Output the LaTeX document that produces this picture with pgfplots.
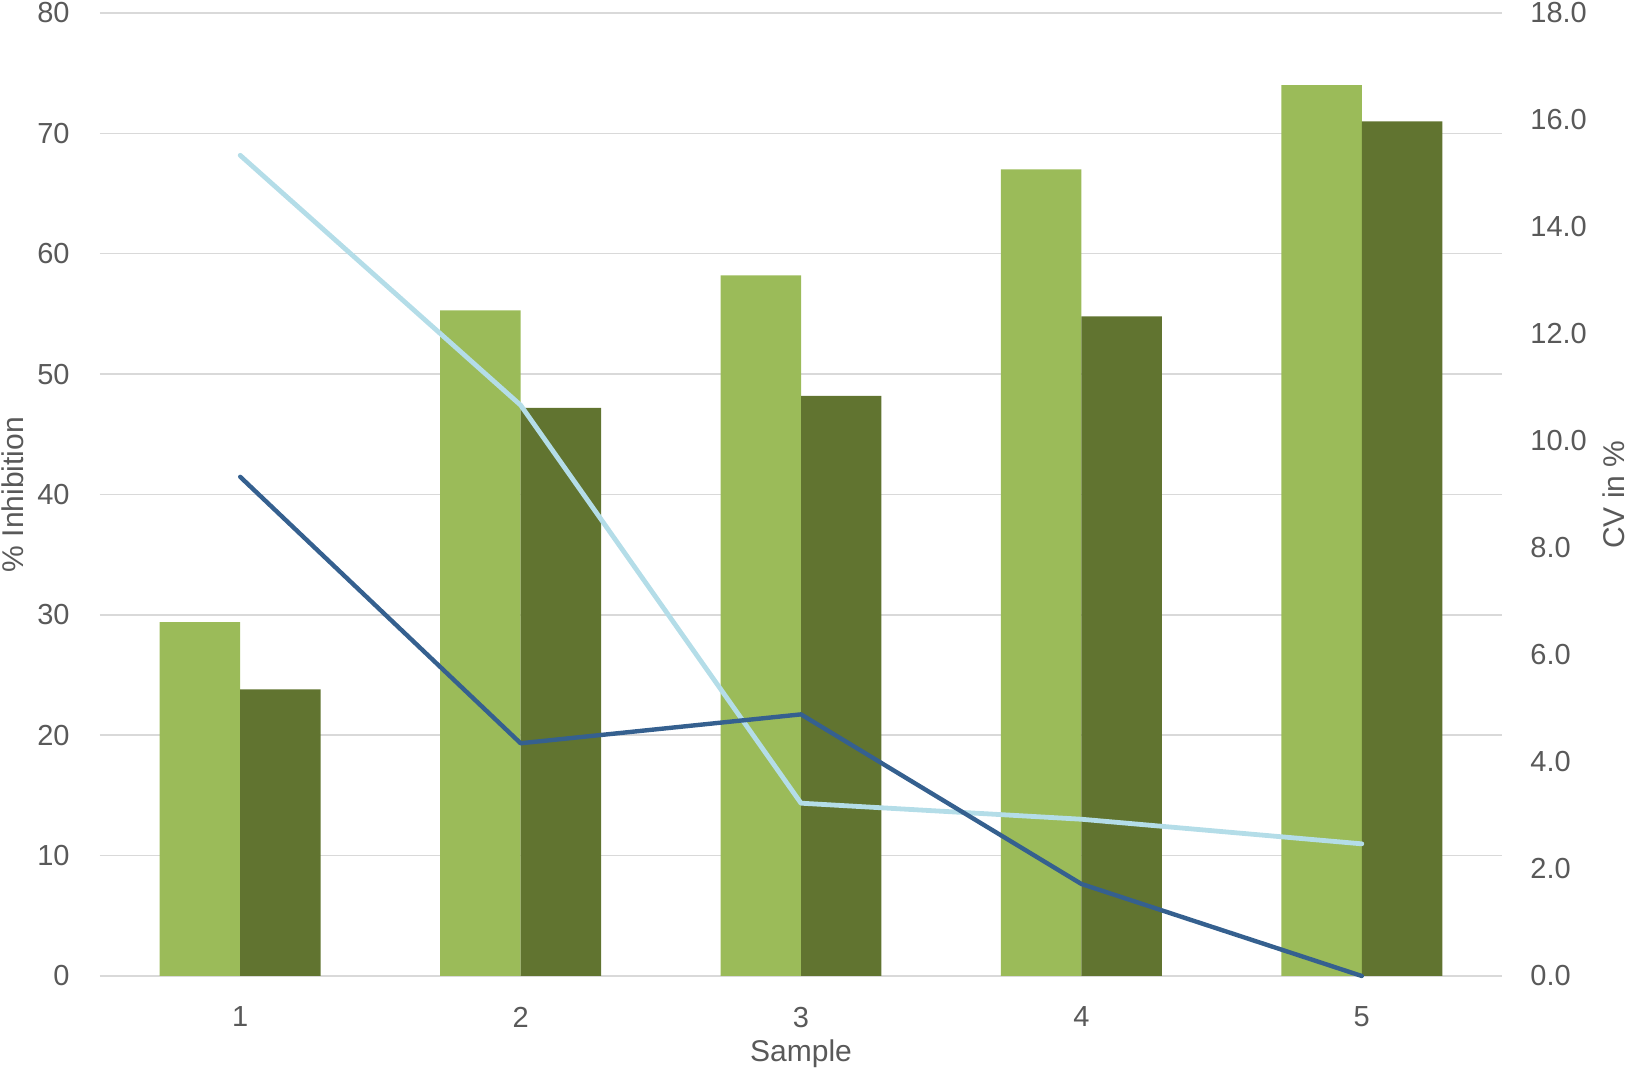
\documentclass[border=0pt]{standalone}
\usepackage{fontspec}
\setmainfont{Liberation Sans}
\usepackage{pgfplots}
\pgfplotsset{compat=1.18}
\definecolor{lgreen}{HTML}{9BBB59}
\definecolor{dgreen}{HTML}{617430}
\definecolor{lblue}{HTML}{B4DDE8}
\definecolor{dblue}{HTML}{35608F}
\definecolor{gridc}{HTML}{D9D9D9}
\definecolor{txt}{HTML}{595959}

\pgfplotsset{
 common/.style={scale only axis, width=701pt, height=481.5pt, xmin=0.5, xmax=5.5,
  at={(0,0)}, anchor=south west,
  tick style={draw=none}, /pgf/number format/assume math mode=true,
  ticklabel style={font=\fontsize{14.5}{17}\selectfont, text=txt, inner sep=0pt},
  label style={font=\fontsize{15}{18}\selectfont, text=txt},
 }
}

\begin{document}
\begin{tikzpicture}
\begin{axis}[common,
 ymin=0, ymax=80, ytick={0,10,...,80},
 xtick={1,2,3,4,5},
 axis x line*=bottom, axis y line*=left,
 x axis line style={draw=gridc, line width=0.75pt, -},
 y axis line style={draw=none},
 ymajorgrids, grid style={draw=gridc, line width=0.75pt},
 ybar=0pt, bar width=0.287,
 yticklabel style={anchor=east, xshift=-15pt},
 xticklabel style={anchor=north, yshift=-11pt},
 xlabel={Sample}, ylabel={\% Inhibition},
 xlabel style={at={(axis description cs:0.5,-0.0805)}, anchor=center},
 ylabel style={at={(axis description cs:-0.0624,0.5)}, anchor=center},
]
\addplot[fill=lgreen, draw=none] coordinates {(1,29.4) (2,55.3) (3,58.2) (4,67.0) (5,74.0)};
\addplot[fill=dgreen, draw=none] coordinates {(1,23.8) (2,47.2) (3,48.2) (4,54.8) (5,71.0)};
\end{axis}
\begin{axis}[common,
 ymin=0, ymax=18, ytick={0,2,...,18},
 axis y line*=right, axis x line=none,
 y axis line style={draw=none},
 xtick=\empty, clip=false,
 y tick label style={anchor=west, xshift=14pt, /pgf/number format/fixed, /pgf/number format/fixed zerofill, /pgf/number format/precision=1},
 ylabel={CV in \%},
 ylabel style={at={(axis description cs:1.0799,0.5)}, anchor=center},
]
\addplot[lblue, line width=2.4pt, mark=none, line cap=round, line join=round] coordinates {(1,15.34) (2,10.67) (3,3.23) (4,2.93) (5,2.47)};
\addplot[dblue, line width=2.2pt, mark=none, line cap=round, line join=round] coordinates {(1,9.33) (2,4.35) (3,4.89) (4,1.72) (5,0.0)};
\end{axis}
\pgfresetboundingbox
\path[use as bounding box] (-50pt,-49pt) rectangle (764pt,488pt);
\end{tikzpicture}
\end{document}
